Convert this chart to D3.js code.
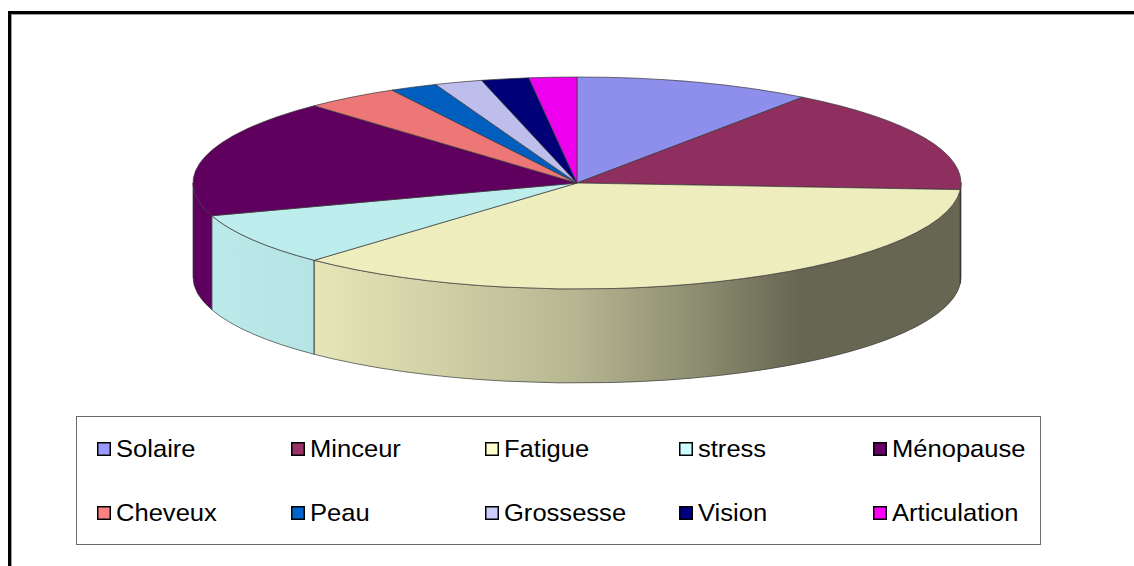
<!DOCTYPE html>
<html>
<head>
<meta charset="utf-8">
<script src="https://cdn.jsdelivr.net/npm/d3@7"></script>
<style>
  html, body { margin: 0; padding: 0; background: #fff; overflow: hidden; }
  text { font-family: "Liberation Sans", Arial, sans-serif; }
</style>
</head>
<body>
<svg id="svg" width="1134" height="566"></svg>
<script>
// data (counts, total 50)
var categories = ["Solaire", "Minceur", "Fatigue", "stress", "Ménopause",
                  "Cheveux", "Peau", "Grossesse", "Vision", "Articulation"];
var values = [5, 8, 18, 4, 9, 2, 1, 1, 1, 1];
var palette = ["#9999FF", "#993366", "#FFFFCC", "#CCFFFF", "#660066",
               "#FF8080", "#0066CC", "#CCCCFF", "#000080", "#FF00FF"];

var svg = d3.select("#svg");
var width = +svg.attr("width"), height = +svg.attr("height");

// outer frame (runs off the right and bottom of the window)
svg.append("rect")
    .attr("x", 9.5).attr("y", 12.5)
    .attr("width", 1300).attr("height", 800)
    .attr("fill", "none").attr("stroke", "#000").attr("stroke-width", 3);
svg.append("rect")
    .attr("x", 11.5).attr("y", 14.5)
    .attr("width", 1300).attr("height", 800)
    .attr("fill", "none").attr("stroke", "#9a9a9a").attr("stroke-width", 1);

var cx = 577, cy = 183, rx = 384, ry = 106, depth = 94;

function shade(c, f) {
    var col = d3.rgb(c);
    return d3.rgb(col.r * f, col.g * f, col.b * f).toString();
}
function px(a) { return cx + rx * Math.sin(a); }
function py(a) { return cy - ry * Math.cos(a); }

var pie = d3.pie().sort(null).value(function(d) { return d; });
var arcs = pie(values);

function topPath(d) {
    var large = (d.endAngle - d.startAngle) > Math.PI ? 1 : 0;
    return "M" + cx + "," + cy +
        "L" + px(d.startAngle) + "," + py(d.startAngle) +
        "A" + rx + "," + ry + " 0 " + large + " 1 " + px(d.endAngle) + "," + py(d.endAngle) + "Z";
}

function sidePath(a0, a1) {
    return "M" + px(a0) + "," + py(a0) +
        "A" + rx + "," + ry + " 0 0 1 " + px(a1) + "," + py(a1) +
        "L" + px(a1) + "," + (py(a1) + depth) +
        "A" + rx + "," + ry + " 0 0 0 " + px(a0) + "," + (py(a0) + depth) + "Z";
}

// side faces: only the front half (90deg..270deg) is seen
var sides = arcs.map(function(d, i) {
    return { i: i, a0: Math.max(d.startAngle, Math.PI / 2), a1: Math.min(d.endAngle, 3 * Math.PI / 2) };
}).filter(function(s) { return s.a1 > s.a0; });

var defs = svg.append("defs");
var grad = defs.append("linearGradient")
    .attr("id", "sideShade")
    .attr("gradientUnits", "userSpaceOnUse")
    .attr("x1", cx - rx).attr("x2", cx + rx).attr("y1", 0).attr("y2", 0);
var shadeStops = [[193, 0.08], [330, 0.11], [450, 0.19], [577, 0.29], [700, 0.45], [800, 0.6], [961, 0.6]];
grad.selectAll("stop").data(shadeStops).enter().append("stop")
    .attr("offset", function(d) { return (d[0] - (cx - rx)) / (2 * rx); })
    .attr("stop-color", "#000")
    .attr("stop-opacity", function(d) { return d[1]; });

var pieG = svg.append("g");

pieG.selectAll(".side").data(sides).enter().append("path")
    .attr("class", "side")
    .attr("d", function(s) { return sidePath(s.a0, s.a1); })
    .attr("fill", function(s) { return palette[s.i]; });

pieG.append("path")
    .attr("d", sidePath(Math.PI / 2, 3 * Math.PI / 2))
    .attr("fill", "url(#sideShade)");

pieG.selectAll(".side-edge").data(sides).enter().append("path")
    .attr("class", "side-edge")
    .attr("d", function(s) { return sidePath(s.a0, s.a1); })
    .attr("fill", "none")
    .attr("stroke", "#3a3a3a")
    .attr("stroke-width", 0.7);

pieG.selectAll(".top").data(arcs).enter().append("path")
    .attr("class", "top")
    .attr("d", topPath)
    .attr("fill", function(d, i) { return shade(palette[i], 0.93); })
    .attr("stroke", "#3a3a3a")
    .attr("stroke-width", 0.7)
    .attr("stroke-linejoin", "round");

// legend
var legend = svg.append("g");
legend.append("rect")
    .attr("x", 76.5).attr("y", 416.5)
    .attr("width", 964).attr("height", 128)
    .attr("fill", "#fff").attr("stroke", "#6a6a6a").attr("stroke-width", 1);

var colX = d3.scaleLinear().domain([0, 4]).range([97, 873]);
var rowY = d3.scaleLinear().domain([0, 1]).range([449, 513]);

var item = legend.selectAll(".item").data(categories).enter().append("g")
    .attr("class", "item")
    .attr("transform", function(d, i) {
        return "translate(" + colX(i % 5) + "," + rowY(Math.floor(i / 5)) + ")";
    });
item.append("rect")
    .attr("x", 0.75).attr("y", -6.25)
    .attr("width", 12.5).attr("height", 12.5)
    .attr("fill", function(d, i) { return palette[i]; })
    .attr("stroke", "#000").attr("stroke-width", 1.5);
item.append("text")
    .attr("transform", "translate(19,8) scale(1.065,1)")
    .attr("font-size", 24)
    .attr("fill", "#000")
    .text(function(d) { return d; });
</script>
</body>
</html>
